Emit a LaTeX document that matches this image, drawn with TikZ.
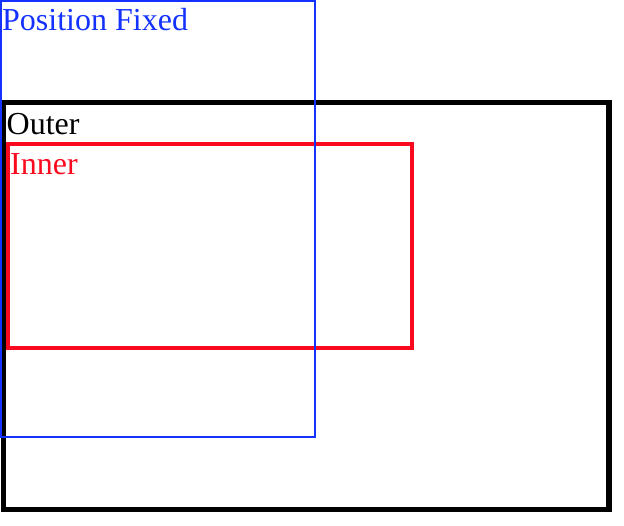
\documentclass[tikz,border=0pt]{standalone}
\usepackage{fontspec}
\setmainfont{Liberation Serif}
\usetikzlibrary{positioning}

\definecolor{fixedblue}{RGB}{20,50,255}
\definecolor{innerred}{RGB}{250,10,30}

\begin{document}
\begin{tikzpicture}[
			x=1pt, y=-1pt,
			outerbox/.style={draw=black, line width=5.5pt},
			innerbox/.style={draw=innerred, line width=4pt},
			fixedbox/.style={draw=fixedblue, line width=2pt},
			boxlabel/.style={anchor=base west, inner sep=0pt, font=\fontsize{32}{37}\selectfont},
		]
		
			\useasboundingbox (0,0) rectangle (624,526);
		
			%Boxes
			\draw[outerbox]	(3.5,102.75) rectangle (609,509.25);
			\draw[innerbox]	(8,144) rectangle (412,348);
			\draw[fixedbox]	(1,1) rectangle (315,437);
		
			%Labels
			\node[boxlabel, text=black]		(outer)	at (6.5,134.5)	{Outer};
			\node[boxlabel, text=innerred]	(inner)	at (10,174.5)	{Inner};
			\node[boxlabel, text=fixedblue]	(fixed)	at (2,30.5)		{Position Fixed};
		
		\end{tikzpicture}
\end{document}
